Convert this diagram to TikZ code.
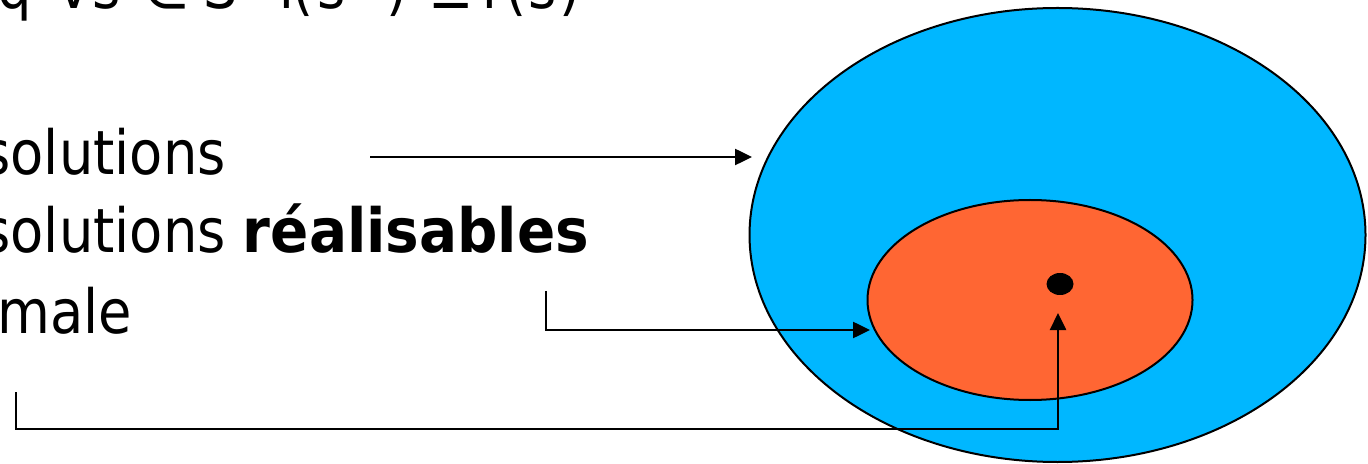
\documentclass[tikz,border=0pt]{standalone}
\usepackage{fontspec}
\setmainfont{DejaVu Sans}[FakeStretch=0.89,BoldFeatures={FakeStretch=0.925}]
\usetikzlibrary{shapes.geometric,arrows.meta}
\definecolor{skyblue}{RGB}{0,183,255}
\definecolor{orangered}{RGB}{255,102,51}
\newcommand\tpc[2]{\makebox[#1][l]{#2}}
\begin{document}
\begin{tikzpicture}[x=0.5pt,y=-0.5pt,
  lbl/.style={anchor=base west,inner sep=0pt,font=\fontsize{30.5}{36}\selectfont},
  conn/.style={line width=1.25pt,-{Triangle[length=8.5pt,width=8pt]}},
  setshape/.style={ellipse,draw=black,line width=1pt,inner sep=0pt}]
\useasboundingbox (0,0) rectangle (1368,464);
\clip (0,0) rectangle (1368,464);
% sets
\node[setshape,fill=skyblue,minimum width=308pt,minimum height=227pt] (blue) at (1057.5,235) {};
\node[setshape,fill=orangered,minimum width=162.5pt,minimum height=100pt] (orange) at (1030,300) {};
\node[ellipse,fill=black,inner sep=0pt,minimum width=13.5pt,minimum height=11pt] (dot) at (1060,284) {};
% texts
\node[lbl] (t0) at (-3,9) {\tpc{29pt}{q}\tpc{18.5pt}{∀}\tpc{25pt}{s}\tpc{30.5pt}{∈}%
\tpc{37.5pt}{S}\tpc{7pt}{f}\tpc{12.5pt}{(}\tpc{14pt}{s}\tpc{20.5pt}{\textsuperscript{*}}%
\tpc{21pt}{)}\tpc{26.5pt}{≤}\tpc{12pt}{f}\tpc{11.5pt}{(}\tpc{15.5pt}{s})};
\node[lbl] (t1) at (-18,175) {solutions};
\node[lbl] (t2) at (-18,253) {solutions \textbf{réalisables}};
\node[lbl] (t3) at (-3,333) {male};
% connector ends
\coordinate (a1s) at (370,157);
\coordinate (a1e) at (752,157);
\coordinate (a2s) at (546,291);
\coordinate (a2e) at (870,330);
\coordinate (a3s) at (16,392);
\coordinate (a3c) at (16,429);
\coordinate (a3e) at (1058,313);
% connectors
\draw[conn] (a1s) -- (a1e);
\draw[conn] (a2s) |- (a2e);
\draw[conn] (a3s) -- (a3c) -| (a3e);
\end{tikzpicture}
\end{document}
